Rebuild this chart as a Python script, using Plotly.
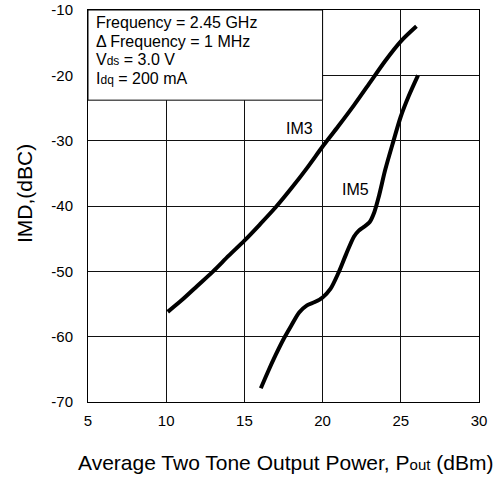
import plotly.graph_objects as go

# Data
im3_x = [10.1, 11, 12, 13, 14, 15, 16, 17, 18, 19, 20, 21, 22, 23, 24, 25, 26]
im3_y = [-56.2, -54.4, -52.2, -50.0, -47.6, -45.3, -42.8, -40.2, -37.3, -34.2,
         -30.9, -27.8, -24.6, -21.2, -17.8, -14.8, -12.5]

im5_x = [16.05, 16.5, 17, 17.5, 18, 18.5, 19, 19.5, 20, 20.5, 21, 21.5, 22,
         22.3, 22.7, 23, 23.3, 23.6, 24, 24.5, 25, 25.5, 26.1]
im5_y = [-67.9, -65.4, -62.8, -60.4, -58.3, -56.3, -55.2, -54.7, -54.0, -52.7,
         -50.3, -47.4, -44.7, -43.8, -43.1, -42.5, -41.0, -38.5, -34.5, -30.3,
         -26.3, -23.2, -20.0]

x_ticks = [5, 10, 15, 20, 25, 30]
y_ticks = [-70, -60, -50, -40, -30, -20, -10]

info_lines = [
    "Frequency = 2.45 GHz",
    "\u0394 Frequency = 1 MHz",
    "V<span style='font-size:12px'>ds</span> = 3.0 V",
    "I<span style='font-size:12px'>dq</span> = 200 mA",
]
curve_labels = [("IM3", 18.5, -28.1), ("IM5", 22.1, -37.4)]
x_title = "Average Two Tone Output Power, P<span style='font-size:15px'>out</span> (dBm)"
y_title = "IMD,(dBC)"

FONT = "Liberation Sans, Arial, Helvetica, sans-serif"
W, H = 502, 478
ML, MR, MT, MB = 88, 23, 10, 76
PW, PH = W - ML - MR, H - MT - MB


def px_to_paper_x(px):
    return (px - ML) / PW


def px_to_paper_y(py):
    return 1 - (py - MT) / PH


fig = go.Figure()
fig.add_trace(go.Scatter(x=im3_x, y=im3_y, mode="lines",
                         line=dict(color="black", width=4, shape="spline", smoothing=0.8),
                         showlegend=False, hoverinfo="skip"))
fig.add_trace(go.Scatter(x=im5_x, y=im5_y, mode="lines",
                         line=dict(color="black", width=4, shape="spline", smoothing=0.8),
                         showlegend=False, hoverinfo="skip"))

# info box
fig.add_shape(type="rect", xref="x", yref="y", x0=5, x1=20, y0=-23.8, y1=-10,
              fillcolor="white", line=dict(color="black", width=1), layer="above")

line_px = [22, 41, 60, 79]
for txt, py in zip(info_lines, line_px):
    fig.add_annotation(text=txt, xref="x", x=5, xanchor="left", xshift=6,
                       yref="paper", y=px_to_paper_y(py), yanchor="middle",
                       showarrow=False, font=dict(family=FONT, size=16, color="black"))

for txt, lx, ly in curve_labels:
    fig.add_annotation(text=txt, x=lx, y=ly, showarrow=False,
                       font=dict(family=FONT, size=16, color="black"))

# axis titles
fig.add_annotation(text=x_title, xref="paper", x=px_to_paper_x(285), yref="paper",
                   y=px_to_paper_y(462), xanchor="center", yanchor="middle",
                   showarrow=False, font=dict(family=FONT, size=21, color="black"))
fig.add_annotation(text=y_title, xref="paper", x=px_to_paper_x(24), yref="paper",
                   y=px_to_paper_y(194), xanchor="center", yanchor="middle",
                   textangle=-90, showarrow=False,
                   font=dict(family=FONT, size=21, color="black"))

axis_common = dict(showgrid=True, gridcolor="#111111", gridwidth=1,
                   showline=True, linecolor="black", linewidth=1, mirror=True,
                   zeroline=False, ticks="", automargin=False,
                   tickfont=dict(family=FONT, size=15, color="black"))

fig.update_xaxes(range=[5, 30], tickvals=x_ticks, ticktext=[str(v) for v in x_ticks],
                 ticklabelstandoff=5, **axis_common)
fig.update_yaxes(range=[-70, -10], tickvals=y_ticks, ticktext=[str(v) for v in y_ticks],
                 ticklabelstandoff=11, **axis_common)

fig.update_layout(width=W, height=H, margin=dict(l=ML, r=MR, t=MT, b=MB),
                  plot_bgcolor="white", paper_bgcolor="white",
                  font=dict(family=FONT, color="black"))

fig.write_html("out.html", config={"displayModeBar": False},
               post_script="document.body.style.margin='0';")
